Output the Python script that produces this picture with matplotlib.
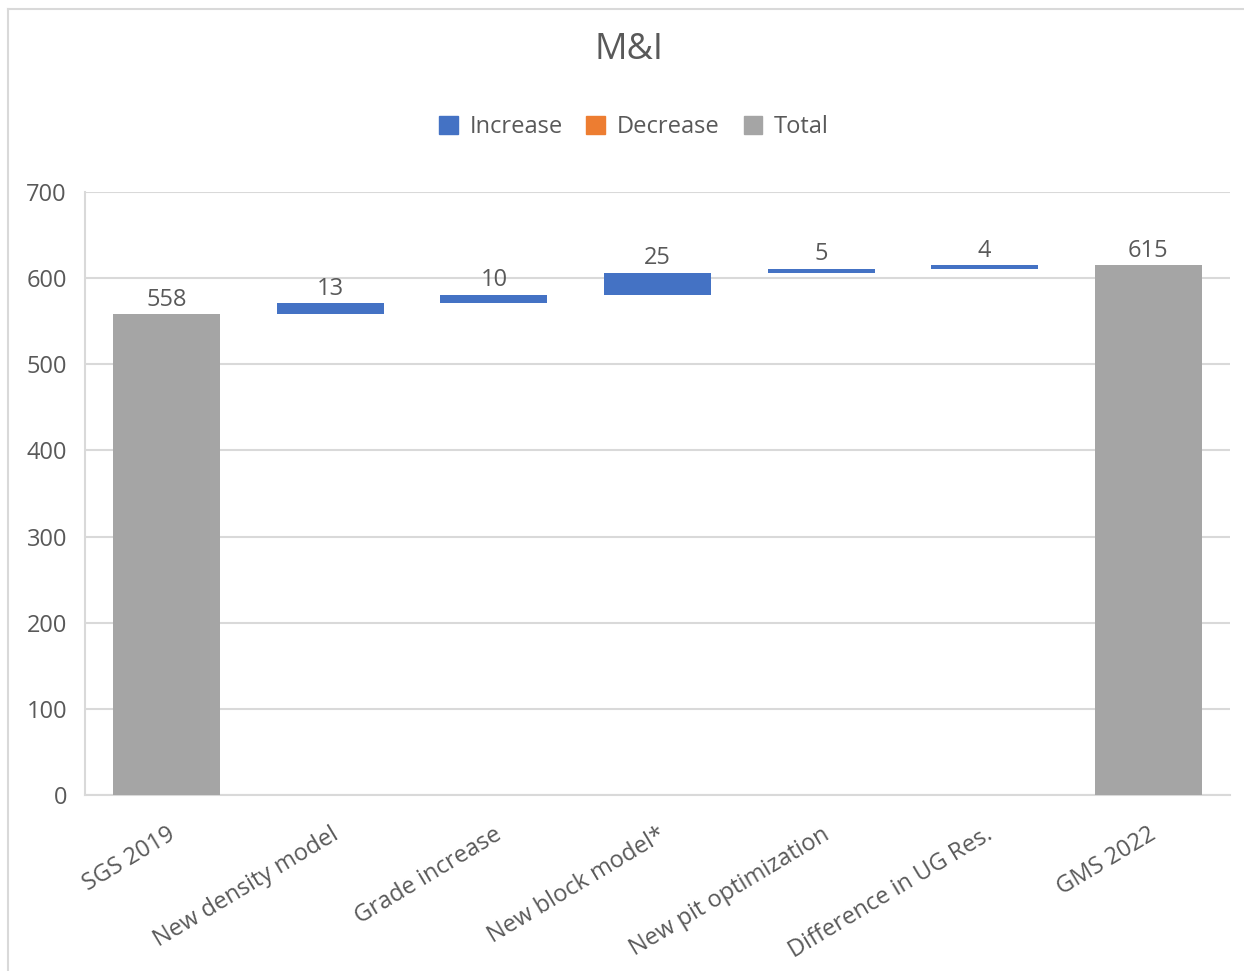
import matplotlib
matplotlib.use("Agg")
import matplotlib.pyplot as plt
from matplotlib.lines import Line2D
from matplotlib.patches import Patch

plt.rcParams['font.family'] = ['Open Sans', 'DejaVu Sans']

categories = ["SGS 2019", "New density model", "Grade increase", "New block model*",
              "New pit optimization", "Difference in UG Res.", "GMS 2022"]
values = [558, 13, 10, 25, 5, 4, 615]
is_total = [True, False, False, False, False, False, True]
y_ticks = [0, 100, 200, 300, 400, 500, 600, 700]

c_inc = "#4472C4"
c_dec = "#ED7D31"
c_tot = "#A5A5A5"
c_text = "#595959"
c_grid = "#D9D9D9"

W, H = 1244, 971
fig = plt.figure(figsize=(W / 100, H / 100), dpi=100)
ax = fig.add_axes([85 / W, 1 - 795 / H, (1230 - 85) / W, (795 - 192) / H])

# waterfall: totals start from zero, changes float on the running total
running = 0
bottoms, heights, colors = [], [], []
for v, tot in zip(values, is_total):
    if tot:
        bottoms.append(0)
        heights.append(v)
        colors.append(c_tot)
        running = v
    else:
        if v >= 0:
            bottoms.append(running)
            heights.append(v)
            colors.append(c_inc)
        else:
            bottoms.append(running + v)
            heights.append(-v)
            colors.append(c_dec)
        running += v

x = list(range(len(categories)))
ax.bar(x, heights, bottom=bottoms, width=0.655, color=colors, zorder=3)

for xi, b, h, v in zip(x, bottoms, heights, values):
    ax.text(xi, b + h + 3, f"{v}", ha="center", va="bottom",
            fontsize=17, color=c_text, zorder=4)

ax.set_xlim(-0.5, len(categories) - 0.5)
ax.set_ylim(0, 700)
ax.set_yticks(y_ticks)
ax.set_yticklabels([str(t) for t in y_ticks], fontsize=17, color=c_text)
ax.set_xticks(x)
ax.set_xticklabels(categories, rotation=31, ha="right", rotation_mode="anchor",
                   fontsize=17, color=c_text)
ax.tick_params(axis="both", length=0)
ax.tick_params(axis="y", pad=13)
ax.tick_params(axis="x", pad=20)
ax.grid(axis="y", color=c_grid, linewidth=1.5, zorder=0)
for side in ("top", "right"):
    ax.spines[side].set_visible(False)
for side in ("left", "bottom"):
    ax.spines[side].set_color(c_grid)
    ax.spines[side].set_linewidth(1.5)

fig.text(629 / W, 1 - 50 / H, "M&I", ha="center", va="center",
         fontsize=26, color=c_text)

handles = [Patch(color=c_inc, label="Increase"),
           Patch(color=c_dec, label="Decrease"),
           Patch(color=c_tot, label="Total")]
fig.legend(handles=handles, loc="center", bbox_to_anchor=(634 / W, 1 - 127 / H),
           ncol=3, frameon=False, fontsize=17, labelcolor=c_text,
           handlelength=0.8, handleheight=0.8, handletextpad=0.5, columnspacing=1.0)

# chart frame edges
fig.add_artist(Line2D([8 / W, 8 / W], [0, 1 - 9 / H], transform=fig.transFigure,
                      color="#D9D9D9", linewidth=1.5))
fig.add_artist(Line2D([8 / W, 1], [1 - 9 / H, 1 - 9 / H], transform=fig.transFigure,
                      color="#D9D9D9", linewidth=1.5))

fig.savefig("out.png", dpi=100, facecolor="white")
